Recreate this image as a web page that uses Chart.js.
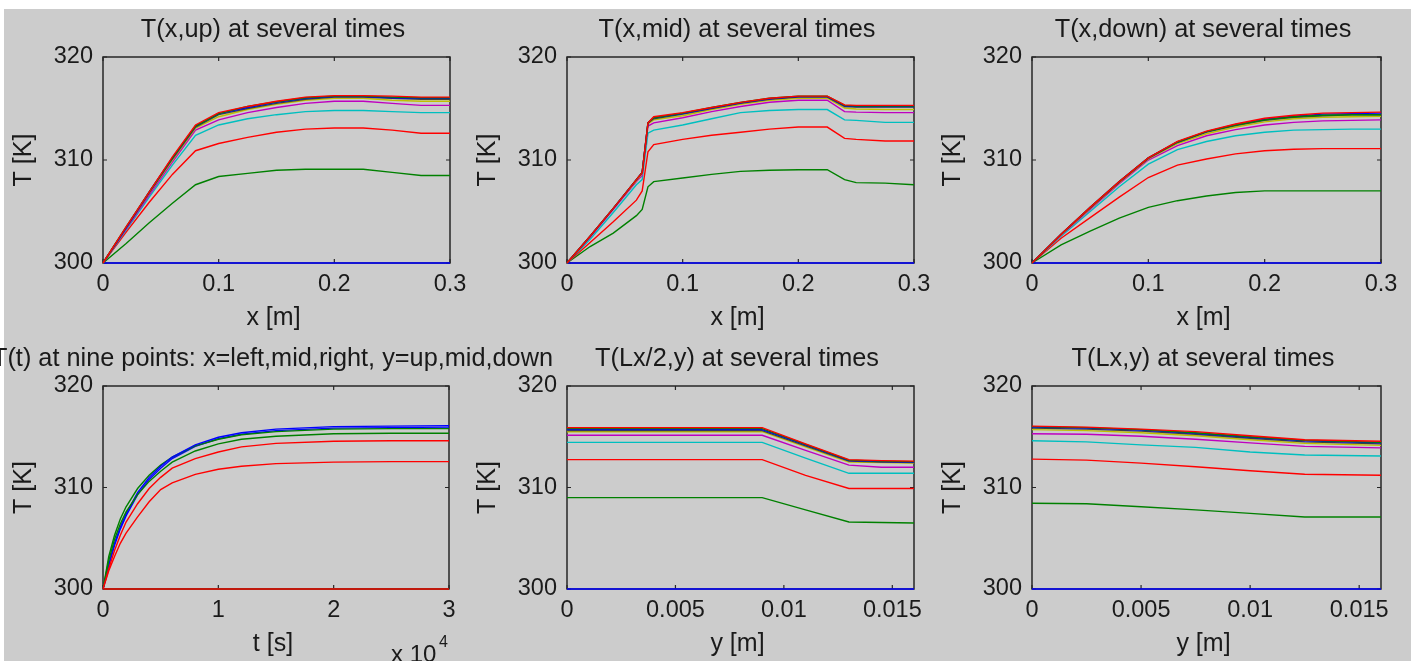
<!DOCTYPE html>
<html><head><meta charset="utf-8">
<script src="https://cdn.jsdelivr.net/npm/chart.js@4"></script>
<style>
html,body{margin:0;padding:0;background:#cccccc;width:1411px;height:661px;overflow:hidden;position:relative;}
#topband{position:absolute;left:0;top:0;width:1411px;height:9px;background:#ffffff}
#leftband{position:absolute;left:0;top:0;width:4px;height:661px;background:#ffffff}
canvas{position:absolute;left:0;top:0;}
</style></head><body>
<div id="topband"></div><div id="leftband"></div>
<canvas id="c1"></canvas><canvas id="c2"></canvas><canvas id="c3"></canvas>
<canvas id="c4"></canvas><canvas id="c5"></canvas><canvas id="c6"></canvas>
<script>
// ---------------- DATA ----------------
const yTicks = [300, 310, 320];
const xTicksX = [0, 0.1, 0.2, 0.3];
const xTickLabelsX = ['0', '0.1', '0.2', '0.3'];
const xTicksY = [0, 0.005, 0.01, 0.015];
const xTickLabelsY = ['0', '0.005', '0.01', '0.015'];
const xTicksT = [0, 10000, 20000, 30000];
const xTickLabelsT = ['0', '1', '2', '3'];

// Panel 1: T(x,up)
const xUp = [0, 0.02, 0.04, 0.06, 0.08, 0.1, 0.125, 0.15, 0.175, 0.2, 0.225, 0.25, 0.275, 0.3];
const up_t0 = [300, 300, 300, 300, 300, 300, 300, 300, 300, 300, 300, 300, 300, 300];
const up_t1 = [300, 301.9, 303.9, 305.8, 307.6, 308.4, 308.7, 309.0, 309.1, 309.1, 309.1, 308.8, 308.5, 308.5];
const up_t2 = [300, 303.0, 305.9, 308.6, 310.9, 311.6, 312.2, 312.7, 313.0, 313.1, 313.1, 312.9, 312.6, 312.6];
const up_t3 = [300, 303.2, 306.4, 309.5, 312.4, 313.4, 314.0, 314.4, 314.7, 314.8, 314.8, 314.7, 314.6, 314.6];
const up_t4 = [300, 303.3, 306.6, 309.8, 312.9, 313.9, 314.6, 315.1, 315.5, 315.7, 315.7, 315.5, 315.3, 315.3];
const up_t5 = [300, 303.4, 306.8, 310.0, 313.1, 314.2, 314.9, 315.4, 315.8, 316.0, 316.0, 315.8, 315.7, 315.7];
const up_t6 = [300, 303.4, 306.8, 310.1, 313.2, 314.4, 315.0, 315.5, 315.9, 316.1, 316.1, 316.0, 315.9, 315.9];
const up_t7 = [300, 303.4, 306.9, 310.2, 313.3, 314.5, 315.1, 315.6, 316.0, 316.15, 316.15, 316.05, 316.0, 316.0];
const up_t8 = [300, 303.5, 306.9, 310.2, 313.3, 314.5, 315.2, 315.65, 316.05, 316.2, 316.2, 316.1, 316.05, 316.05];
const up_t9 = [300, 303.5, 306.9, 310.3, 313.4, 314.6, 315.2, 315.7, 316.1, 316.25, 316.25, 316.2, 316.1, 316.1];

// Panel 2: T(x,mid)
const xMid = [0, 0.02, 0.04, 0.06, 0.065, 0.07, 0.075, 0.1, 0.125, 0.15, 0.175, 0.2, 0.225, 0.24, 0.25, 0.275, 0.3];
const mid_t0 = [300, 300, 300, 300, 300, 300, 300, 300, 300, 300, 300, 300, 300, 300, 300, 300, 300];
const mid_t1 = [300, 301.6, 302.9, 304.6, 305.2, 307.4, 307.9, 308.25, 308.6, 308.9, 309.0, 309.06, 309.06, 308.1, 307.8, 307.75, 307.6];
const mid_t2 = [300, 302.0, 304.0, 306.1, 307.0, 310.8, 311.5, 312.0, 312.4, 312.7, 313.0, 313.2, 313.2, 312.1, 312.0, 311.85, 311.85];
const mid_t3 = [300, 302.3, 304.9, 307.6, 308.1, 312.6, 312.9, 313.4, 314.0, 314.6, 314.8, 314.9, 314.9, 313.9, 313.85, 313.65, 313.65];
const mid_t4 = [300, 302.5, 305.2, 307.9, 308.5, 313.3, 313.6, 314.1, 314.7, 315.2, 315.6, 315.8, 315.8, 314.7, 314.65, 314.6, 314.6];
const mid_t5 = [300, 302.6, 305.3, 308.0, 308.7, 313.5, 313.9, 314.3, 314.9, 315.4, 315.8, 316.0, 316.0, 315.05, 314.95, 314.9, 314.9];
const mid_t6 = [300, 302.6, 305.3, 308.1, 308.8, 313.6, 314.0, 314.45, 315.0, 315.5, 315.9, 316.1, 316.1, 315.2, 315.15, 315.15, 315.15];
const mid_t7 = [300, 302.6, 305.3, 308.1, 308.8, 313.6, 314.1, 314.5, 315.05, 315.55, 315.95, 316.15, 316.15, 315.25, 315.2, 315.2, 315.2];
const mid_t8 = [300, 302.6, 305.3, 308.1, 308.8, 313.6, 314.1, 314.55, 315.1, 315.6, 316.0, 316.2, 316.2, 315.3, 315.25, 315.25, 315.25];
const mid_t9 = [300, 302.6, 305.3, 308.1, 308.8, 313.6, 314.2, 314.6, 315.1, 315.6, 316.0, 316.2, 316.2, 315.35, 315.3, 315.3, 315.3];

// Panel 3: T(x,down)
const xDown = [0, 0.025, 0.05, 0.075, 0.1, 0.125, 0.15, 0.175, 0.2, 0.225, 0.25, 0.275, 0.3];
const down_t0 = [300, 300, 300, 300, 300, 300, 300, 300, 300, 300, 300, 300, 300];
const down_t1 = [300, 301.75, 303.1, 304.35, 305.4, 306.05, 306.5, 306.85, 307.0, 307.0, 307.0, 307.0, 307.0];
const down_t2 = [300, 302.4, 304.4, 306.4, 308.3, 309.5, 310.1, 310.6, 310.9, 311.05, 311.1, 311.1, 311.1];
const down_t3 = [300, 302.6, 305.0, 307.4, 309.6, 311.0, 311.8, 312.35, 312.7, 312.9, 312.95, 313.0, 313.0];
const down_t4 = [300, 302.7, 305.2, 307.7, 310.0, 311.4, 312.35, 312.95, 313.4, 313.65, 313.8, 313.85, 313.9];
const down_t5 = [300, 302.75, 305.3, 307.8, 310.1, 311.6, 312.55, 313.2, 313.7, 314.0, 314.15, 314.2, 314.25];
const down_t6 = [300, 302.8, 305.35, 307.85, 310.15, 311.7, 312.7, 313.35, 313.85, 314.15, 314.3, 314.4, 314.4];
const down_t7 = [300, 302.8, 305.4, 307.9, 310.2, 311.75, 312.75, 313.45, 313.95, 314.25, 314.45, 314.5, 314.55];
const down_t8 = [300, 302.8, 305.4, 307.9, 310.2, 311.75, 312.75, 313.4, 313.9, 314.2, 314.35, 314.4, 314.4];
const down_t9 = [300, 302.8, 305.4, 307.9, 310.2, 311.8, 312.8, 313.5, 314.05, 314.35, 314.55, 314.6, 314.65];

// Panel 4: T(t) at nine points
const tSec = [0, 500, 1000, 1500, 2000, 3000, 4000, 5000, 6000, 8000, 10000, 12000, 15000, 20000, 25000, 30000];
const left_up   = [300, 300, 300, 300, 300, 300, 300, 300, 300, 300, 300, 300, 300, 300, 300, 300];
const left_mid  = [300, 300, 300, 300, 300, 300, 300, 300, 300, 300, 300, 300, 300, 300, 300, 300];
const left_down = [300, 300, 300, 300, 300, 300, 300, 300, 300, 300, 300, 300, 300, 300, 300, 300];
const cen_up    = [300, 302.3, 304.3, 305.9, 307.2, 309.3, 310.8, 311.9, 312.85, 314.05, 314.8, 315.25, 315.6, 315.85, 315.9, 315.95];
const cen_mid   = [300, 303.2, 305.3, 306.9, 308.1, 309.9, 311.2, 312.2, 313.0, 314.1, 314.75, 315.2, 315.5, 315.75, 315.8, 315.8];
const cen_down  = [300, 301.8, 303.2, 304.5, 305.5, 307.1, 308.6, 309.8, 310.45, 311.3, 311.8, 312.1, 312.35, 312.5, 312.55, 312.55];
const right_up  = [300, 302.4, 304.5, 306.1, 307.4, 309.5, 311.0, 312.1, 313.0, 314.2, 314.95, 315.4, 315.75, 316.0, 316.05, 316.1];
const right_mid = [300, 302.8, 304.9, 306.4, 307.6, 309.3, 310.6, 311.6, 312.5, 313.6, 314.3, 314.75, 315.05, 315.3, 315.35, 315.35];
const right_down= [300, 302.0, 303.8, 305.3, 306.6, 308.4, 309.9, 311.0, 311.9, 312.85, 313.5, 314.0, 314.35, 314.55, 314.6, 314.6];

// Panel 5: T(Lx/2,y)
const yHalf = [0, 0.0045, 0.009, 0.011, 0.013, 0.0145, 0.016];
const half_t0 = [300, 300, 300, 300, 300, 300, 300];
const half_t1 = [309.0, 309.0, 309.0, 307.8, 306.6, 306.55, 306.5];
const half_t2 = [312.75, 312.75, 312.75, 311.2, 309.9, 309.9, 309.9];
const half_t3 = [314.45, 314.45, 314.45, 312.9, 311.4, 311.4, 311.4];
const half_t4 = [315.15, 315.15, 315.15, 313.65, 312.2, 312.0, 312.0];
const half_t5 = [315.5, 315.5, 315.5, 314.0, 312.5, 312.45, 312.4];
const half_t6 = [315.6, 315.6, 315.6, 314.1, 312.6, 312.5, 312.45];
const half_t7 = [315.7, 315.7, 315.7, 314.2, 312.65, 312.55, 312.5];
const half_t8 = [315.8, 315.8, 315.8, 314.25, 312.7, 312.6, 312.55];
const half_t9 = [315.9, 315.9, 315.9, 314.3, 312.75, 312.65, 312.6];

// Panel 6: T(Lx,y)
const yEnd = [0, 0.0025, 0.005, 0.0075, 0.01, 0.0125, 0.016];
const end_t0 = [300, 300, 300, 300, 300, 300, 300];
const end_t1 = [308.45, 308.4, 308.1, 307.8, 307.45, 307.1, 307.1];
const end_t2 = [312.8, 312.7, 312.4, 312.05, 311.65, 311.3, 311.2];
const end_t3 = [314.6, 314.5, 314.2, 313.95, 313.5, 313.2, 313.1];
const end_t4 = [315.3, 315.25, 315.05, 314.75, 314.4, 314.05, 313.9];
const end_t5 = [315.7, 315.6, 315.4, 315.1, 314.7, 314.35, 314.15];
const end_t6 = [315.85, 315.75, 315.55, 315.25, 314.85, 314.5, 314.3];
const end_t7 = [315.95, 315.85, 315.65, 315.35, 314.95, 314.6, 314.4];
const end_t8 = [316.0, 315.9, 315.7, 315.4, 315.0, 314.65, 314.45];
const end_t9 = [316.05, 315.95, 315.75, 315.5, 315.1, 314.7, 314.55];

// MATLAB colour order
const colorOrder = ['#0000ff', '#008000', '#ff0000', '#00bfbf', '#bf00bf', '#bfbf00', '#404040'];
const ninePointColors = ['#0000ff', '#008000', '#ff0000'];

// ---------------- RENDERING ----------------
const W = 1411, H = 661;
const FONT = "'Liberation Sans', Arial, sans-serif";
const TEXT = '#1a1a1a';
const Y_AXIS_W = 60, X_AXIS_H = 40;

const framePlugin = {
  id: 'matlabFrame',
  beforeDatasetsDraw(chart, args, opts) {
    const ctx = chart.ctx, a = chart.chartArea;
    ctx.save();
    ctx.strokeStyle = '#262626';
    ctx.lineWidth = 1.5;
    ctx.strokeRect(a.left, a.top, a.right - a.left, a.bottom - a.top);
    const tl = 4;
    ctx.lineWidth = 1.2;
    ctx.beginPath();
    chart.scales.x.ticks.forEach(t => {
      const px = chart.scales.x.getPixelForValue(t.value);
      ctx.moveTo(px, a.bottom); ctx.lineTo(px, a.bottom - tl);
      ctx.moveTo(px, a.top); ctx.lineTo(px, a.top + tl);
    });
    chart.scales.y.ticks.forEach(t => {
      const py = chart.scales.y.getPixelForValue(t.value);
      ctx.moveTo(a.left, py); ctx.lineTo(a.left + tl, py);
      ctx.moveTo(a.right, py); ctx.lineTo(a.right - tl, py);
    });
    ctx.stroke();
    ctx.restore();
  },
  afterDraw(chart, args, opts) {
    const ctx = chart.ctx, a = chart.chartArea;
    const cx = (a.left + a.right) / 2, cy = (a.top + a.bottom) / 2;
    ctx.save();
    ctx.fillStyle = TEXT;
    ctx.textAlign = 'center';
    ctx.textBaseline = 'alphabetic';
    ctx.font = '25.3px ' + FONT;
    ctx.fillText(opts.title, cx - 3.5, a.top - 20);
    ctx.font = '25px ' + FONT;
    ctx.fillText(opts.xLabel, cx - 3, a.bottom + 62);
    ctx.save();
    ctx.translate(a.left - 79, cy);
    ctx.rotate(-Math.PI / 2);
    ctx.textBaseline = 'middle';
    ctx.fillText(opts.yLabel, 0, 0);
    ctx.restore();
    if (opts.exponent) {
      ctx.textAlign = 'left';
      ctx.font = '24px ' + FONT;
      ctx.fillText('x 10', a.right - 58, a.bottom + 73);
      ctx.font = '16px ' + FONT;
      ctx.fillText(opts.exponent, a.right - 10, a.bottom + 58);
    }
    ctx.restore();
  }
};

function makePanel(id, area, title, xLabel, xMin, xMax, xTickVals, xTickLabels, xs, series, colors, exponent) {
  const cv = document.getElementById(id);
  cv.width = W; cv.height = H;
  cv.style.width = W + 'px'; cv.style.height = H + 'px';
  const datasets = series.map((s, i) => ({
    data: xs.map((x, j) => ({ x: x, y: s[j] })),
    borderColor: colors[i % colors.length],
    borderWidth: 1.4,
    pointRadius: 0,
    tension: 0,
    fill: false,
    clip: 3,
    order: -i
  }));
  new Chart(cv, {
    type: 'line',
    data: { datasets },
    options: {
      responsive: false,
      devicePixelRatio: 1,
      animation: false,
      events: [],
      layout: {
        padding: {
          left: area.left - Y_AXIS_W,
          top: area.top,
          right: W - area.right,
          bottom: H - area.bottom - X_AXIS_H
        }
      },
      plugins: {
        legend: { display: false },
        tooltip: { enabled: false },
        title: { display: false },
        matlabFrame: { title, xLabel, yLabel: 'T [K]', exponent }
      },
      scales: {
        x: {
          type: 'linear',
          min: xMin, max: xMax,
          grid: { display: false, drawTicks: false },
          border: { display: false },
          afterBuildTicks: sc => { sc.ticks = xTickVals.map(v => ({ value: v })); },
          afterFit: sc => { sc.height = X_AXIS_H; },
          ticks: {
            autoSkip: false, maxRotation: 0, padding: 7,
            color: TEXT, font: { family: FONT, size: 23.5 },
            callback: (v) => { const k = xTickVals.indexOf(v); return k >= 0 ? xTickLabels[k] : ''; }
          }
        },
        y: {
          type: 'linear',
          min: 300, max: 320,
          grid: { display: false, drawTicks: false },
          border: { display: false },
          afterBuildTicks: sc => { sc.ticks = yTicks.map(v => ({ value: v })); },
          afterFit: sc => { sc.width = Y_AXIS_W; },
          ticks: {
            padding: 10,
            color: TEXT, font: { family: FONT, size: 23.5 },
            callback: (v) => String(v)
          }
        }
      }
    },
    plugins: [framePlugin]
  });
}

makePanel('c1', { left: 103, top: 57, right: 450, bottom: 263 }, 'T(x,up) at several times', 'x [m]',
  0, 0.3, xTicksX, xTickLabelsX, xUp,
  [up_t0, up_t1, up_t2, up_t3, up_t4, up_t5, up_t6, up_t7, up_t8, up_t9], colorOrder);
makePanel('c2', { left: 567, top: 57, right: 914, bottom: 263 }, 'T(x,mid) at several times', 'x [m]',
  0, 0.3, xTicksX, xTickLabelsX, xMid,
  [mid_t0, mid_t1, mid_t2, mid_t3, mid_t4, mid_t5, mid_t6, mid_t7, mid_t8, mid_t9], colorOrder);
makePanel('c3', { left: 1032, top: 57, right: 1381, bottom: 263 }, 'T(x,down) at several times', 'x [m]',
  0, 0.3, xTicksX, xTickLabelsX, xDown,
  [down_t0, down_t1, down_t2, down_t3, down_t4, down_t5, down_t6, down_t7, down_t8, down_t9], colorOrder);
makePanel('c4', { left: 103, top: 386, right: 449, bottom: 589 }, 'T(t) at nine points: x=left,mid,right, y=up,mid,down', 't [s]',
  0, 30000, xTicksT, xTickLabelsT, tSec,
  [left_up, left_mid, left_down, cen_up, cen_mid, cen_down, right_up, right_mid, right_down], ninePointColors, '4');
makePanel('c5', { left: 567, top: 386, right: 914, bottom: 589 }, 'T(Lx/2,y) at several times', 'y [m]',
  0, 0.016, xTicksY, xTickLabelsY, yHalf,
  [half_t0, half_t1, half_t2, half_t3, half_t4, half_t5, half_t6, half_t7, half_t8, half_t9], colorOrder);
makePanel('c6', { left: 1032, top: 386, right: 1381, bottom: 589 }, 'T(Lx,y) at several times', 'y [m]',
  0, 0.016, xTicksY, xTickLabelsY, yEnd,
  [end_t0, end_t1, end_t2, end_t3, end_t4, end_t5, end_t6, end_t7, end_t8, end_t9], colorOrder);
</script>
</body></html>
